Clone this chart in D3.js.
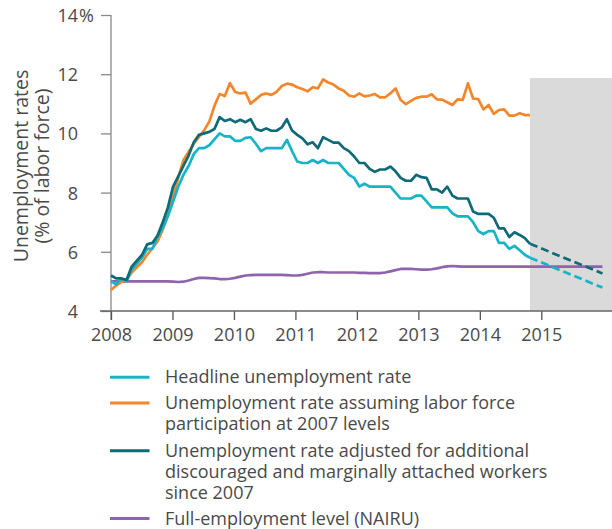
<!DOCTYPE html>
<html><head><meta charset="utf-8">
<script src="https://cdn.jsdelivr.net/npm/d3@7"></script>
<style>
body{margin:0;background:#fff}
text{font-family:"Open Sans",sans-serif;font-weight:400;fill:#4a4a4a}
</style>
</head><body>
<svg id="chart" width="612" height="529"></svg>
<script>
// Monthly values, index 0 = Jan 2008 ... 81 = Oct 2014
const headline = [
  5.0,4.9,5.1,5.0,5.4,5.6,5.8,6.1,6.1,6.5,6.8,7.2,
  7.7,8.2,8.6,8.9,9.3,9.5,9.5,9.6,9.8,10.0,9.9,9.9,
  9.75,9.75,9.85,9.87,9.65,9.4,9.5,9.5,9.5,9.5,9.78,9.4,
  9.05,9.0,9.0,9.1,9.0,9.1,9.0,9.0,9.0,8.8,8.6,8.5,
  8.2,8.3,8.2,8.2,8.2,8.2,8.2,8.0,7.8,7.8,7.8,7.9,
  7.9,7.7,7.5,7.5,7.5,7.5,7.3,7.2,7.2,7.2,7.0,6.7,
  6.6,6.7,6.7,6.3,6.3,6.1,6.2,6.05,5.9,5.8
];
const participation2007 = [
  4.71,4.86,4.98,5.06,5.3,5.48,5.65,5.9,6.12,6.35,6.75,7.25,
  7.89,8.5,9.1,9.37,9.65,9.88,10.1,10.4,10.93,11.33,11.26,11.7,
  11.4,11.35,11.38,11.0,11.15,11.3,11.35,11.3,11.4,11.6,11.68,11.65,
  11.56,11.5,11.42,11.56,11.52,11.82,11.72,11.65,11.52,11.44,11.28,11.24,
  11.35,11.25,11.28,11.33,11.22,11.22,11.35,11.52,11.13,10.99,11.1,11.2,
  11.24,11.24,11.32,11.15,11.14,11.05,10.96,11.15,11.13,11.69,11.18,11.16,
  10.81,10.96,10.66,10.79,10.81,10.6,10.6,10.68,10.62,10.62
];
const discouraged = [
  5.2,5.1,5.1,5.05,5.5,5.7,5.9,6.25,6.3,6.55,7.0,7.5,
  8.2,8.55,8.9,9.25,9.7,9.95,10.0,10.05,10.15,10.55,10.42,10.48,
  10.38,10.46,10.38,10.48,10.15,10.09,10.17,10.09,10.09,10.2,10.48,10.1,
  9.95,9.83,9.63,9.7,9.5,9.87,9.78,9.69,9.69,9.5,9.4,9.22,
  9.0,9.0,8.8,8.7,8.78,8.78,8.88,8.72,8.5,8.4,8.4,8.6,
  8.52,8.5,8.11,8.11,8.0,8.2,7.9,7.8,7.8,7.8,7.36,7.28,
  7.28,7.28,7.15,6.79,6.79,6.5,6.66,6.57,6.46,6.27
];
// NAIRU, index 0 = Jan 2008 ... 95 = Dec 2015
const nairu = [
  5.0,5.0,5.0,5.0,5.0,5.0,5.0,5.0,5.0,5.0,5.0,5.0,
  4.99,4.98,4.99,5.03,5.08,5.12,5.12,5.11,5.1,5.08,5.08,5.09,
  5.12,5.16,5.2,5.21,5.22,5.22,5.22,5.22,5.22,5.22,5.21,5.2,
  5.2,5.22,5.26,5.3,5.31,5.31,5.3,5.3,5.3,5.3,5.3,5.3,
  5.29,5.29,5.28,5.28,5.28,5.3,5.34,5.38,5.42,5.42,5.42,5.41,
  5.4,5.4,5.41,5.44,5.48,5.51,5.52,5.51,5.5,5.5,5.5,5.5,
  5.5,5.5,5.5,5.5,5.5,5.5,5.5,5.5,5.5,5.5,5.5,5.5,
  5.5,5.5,5.5,5.5,5.5,5.5,5.5,5.5,5.5,5.5,5.5,5.5
];
// Projections (dashed), from last actual month to Dec 2015
const projMonths = [81, 95];
const projHeadline = [5.8, 4.79];
const projDiscouraged = [6.27, 5.27];
const shadeTopValue = 11.87;
const yTicks = [4, 6, 8, 10, 12, 14];
const yearTicks = [2008, 2009, 2010, 2011, 2012, 2013, 2014, 2015];
const yTitle = ["Unemployment rates", "(% of labor force)"];
const legendItems = [
  {key: "headline", lines: ["Headline unemployment rate"]},
  {key: "participation", lines: ["Unemployment rate assuming labor force", "participation at 2007 levels"]},
  {key: "discouraged", lines: ["Unemployment rate adjusted for additional", "discouraged and marginally attached workers", "since 2007"]},
  {key: "nairu", lines: ["Full-employment level (NAIRU)"]}
];
const colors = {headline: "#17b4c6", participation: "#f4862b", discouraged: "#0f6a77", nairu: "#9063ad"};

const svg = d3.select("#chart");
const x = d3.scaleLinear().domain([0, 81]).range([111, 530]);
const xYear = d3.scaleLinear().domain([2008, 2015]).range([111, 541.3]);
const y = d3.scaleLinear().domain([4, 14]).range([311, 15]);

// forecast shading
svg.append("rect")
  .attr("x", x(projMonths[0])).attr("y", y(shadeTopValue))
  .attr("width", 612 - x(projMonths[0])).attr("height", y(4) - y(shadeTopValue))
  .attr("fill", "#dbdadb");

// y axis
const yAxis = svg.append("g").attr("transform", `translate(${x(0)},0)`)
  .call(d3.axisLeft(y).tickValues(yTicks).tickSize(10).tickPadding(23).tickSizeOuter(0));
yAxis.select(".domain").remove();
yAxis.selectAll(".tick line").attr("stroke", "#888").attr("stroke-width", 1.3);
yAxis.selectAll(".tick text").attr("font-size", 18).attr("fill", "#4a4a4a").attr("dy", "0.36em");
yAxis.selectAll(".tick").filter(d => d === 14).append("text")
  .attr("x", -32).attr("dy", "0.36em").attr("text-anchor", "start")
  .attr("font-size", 18).attr("fill", "#4a4a4a").style("font-family", '"Open Sans",sans-serif').text("%");
svg.append("line").attr("x1", x(0)).attr("x2", x(0)).attr("y1", y(14)).attr("y2", y(4) + 9)
  .attr("stroke", "#888").attr("stroke-width", 1.3);

// x axis
const xAxis = svg.append("g").attr("transform", `translate(0,${y(4)})`)
  .call(d3.axisBottom(xYear).tickValues(yearTicks).tickFormat(d3.format("d")).tickSize(9).tickPadding(8).tickSizeOuter(0));
xAxis.select(".domain").remove();
xAxis.selectAll(".tick line").attr("stroke", "#555").attr("stroke-width", 1.3);
xAxis.selectAll(".tick text").attr("font-size", 18).attr("fill", "#4a4a4a");
svg.append("line").attr("x1", x(0) - 11).attr("x2", 612).attr("y1", y(4)).attr("y2", y(4))
  .attr("stroke", "#666").attr("stroke-width", 1.3);

// y title
const yt = svg.append("text").attr("transform", "translate(0,166) rotate(-90)")
  .attr("text-anchor", "middle").attr("font-size", 19.5);
yt.selectAll("tspan").data(yTitle).join("tspan")
  .attr("x", 0).attr("y", (d, i) => 28 + i * 21).text(d => d);

// lines
const line = d3.line().x(d => x(d[0])).y(d => y(d[1]));
const toPts = arr => arr.map((v, i) => [i, v]);
const drawLine = (data, color, dash) => svg.append("path").datum(data)
  .attr("d", line).attr("fill", "none").attr("stroke", color)
  .attr("stroke-width", 2.7).attr("stroke-linejoin", "round")
  .attr("stroke-dasharray", dash || null);

drawLine(toPts(nairu), colors.nairu);
drawLine(toPts(participation2007), colors.participation);
drawLine(toPts(headline), colors.headline);
drawLine(toPts(discouraged), colors.discouraged);
drawLine(projMonths.map((m, i) => [m, projHeadline[i]]), colors.headline, "8,4");
drawLine(projMonths.map((m, i) => [m, projDiscouraged[i]]), colors.discouraged, "8,4");

// legend
const baselines = [[383.3], [409, 430], [456.7, 477.7, 499], [524.5]];
const lg = svg.append("g");
legendItems.forEach((item, i) => {
  const b = baselines[i];
  lg.append("line").attr("x1", 110).attr("x2", 149.5)
    .attr("y1", b[0] - 6).attr("y2", b[0] - 6)
    .attr("stroke", colors[item.key]).attr("stroke-width", 3);
  item.lines.forEach((t, j) => {
    lg.append("text").attr("x", 165).attr("y", b[j]).attr("font-size", 18).text(t);
  });
});
</script>
</body></html>
